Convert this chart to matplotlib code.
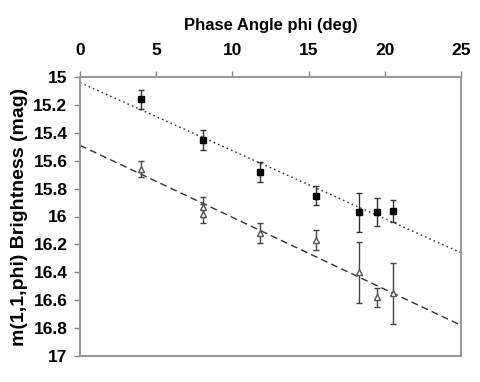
import matplotlib
matplotlib.use("Agg")
import matplotlib.pyplot as plt
import numpy as np

plt.rcParams['font.family'] = ['Liberation Sans', 'DejaVu Sans']

sq_x = [4.0, 8.1, 11.8, 15.5, 18.3, 19.5, 20.55]
sq_y = [15.16, 15.45, 15.68, 15.85, 15.97, 15.97, 15.96]
sq_err = [0.07, 0.07, 0.07, 0.07, 0.14, 0.10, 0.08]

tri_x = [4.0, 8.1, 8.1, 11.8, 15.5, 18.3, 19.5, 20.55]
tri_y = [15.66, 15.93, 15.98, 16.12, 16.17, 16.40, 16.58, 16.55]
tri_err = [0.06, 0.07, 0.07, 0.07, 0.07, 0.22, 0.07, 0.22]

fit_x = [0, 25]
fit_sq = [15.04, 16.26]
fit_tri = [15.49, 16.78]

xticks = [0, 5, 10, 15, 20, 25]
yticks = [15, 15.2, 15.4, 15.6, 15.8, 16, 16.2, 16.4, 16.6, 16.8, 17]
ytick_labels = ['15', '15.2', '15.4', '15.6', '15.8', '16', '16.2', '16.4', '16.6', '16.8', '17']

fig = plt.figure(figsize=(4.8, 3.82), dpi=100)
ax = fig.add_axes([80/480, 1-356/382, (461-80)/480, (356-77)/382])

ax.plot(fit_x, fit_sq, linestyle=(0, (1.2, 2.2)), color='#333333', lw=1.0)
ax.plot(fit_x, fit_tri, linestyle=(0, (5, 3)), color='#333333', lw=1.0)

ax.errorbar(sq_x, sq_y, yerr=sq_err, fmt='s', color='black', ms=4.5,
            ecolor='#333333', elinewidth=1.0, capsize=2.2, capthick=1.0)
ax.errorbar(tri_x, tri_y, yerr=tri_err, fmt='^', mfc='white', mec='#555555', ms=4,
            ecolor='#444444', elinewidth=1.0, capsize=2.2, capthick=1.0)

ax.set_xlim(0, 25)
ax.set_ylim(17, 15)
ax.xaxis.tick_top()
ax.xaxis.set_label_position('top')
ax.set_xticks(xticks)
ax.set_yticks(yticks)
ax.set_yticklabels(ytick_labels)
ax.tick_params(axis='both', direction='out', length=4, width=1, color='#888888',
               labelsize=12.5)
ax.tick_params(axis='x', pad=10)
ax.tick_params(axis='y', pad=5)
for lab in ax.get_xticklabels() + ax.get_yticklabels():
    lab.set_fontweight('bold')
ax.set_xlabel('Phase Angle phi (deg)', fontsize=12, fontweight='bold', labelpad=9)
ax.set_ylabel('m(1,1,phi) Brightness (mag)', fontsize=14, fontweight='bold', labelpad=4)
for s in ax.spines.values():
    s.set_color('#999999')
    s.set_linewidth(1.5)

fig.savefig('out.png', dpi=100)
